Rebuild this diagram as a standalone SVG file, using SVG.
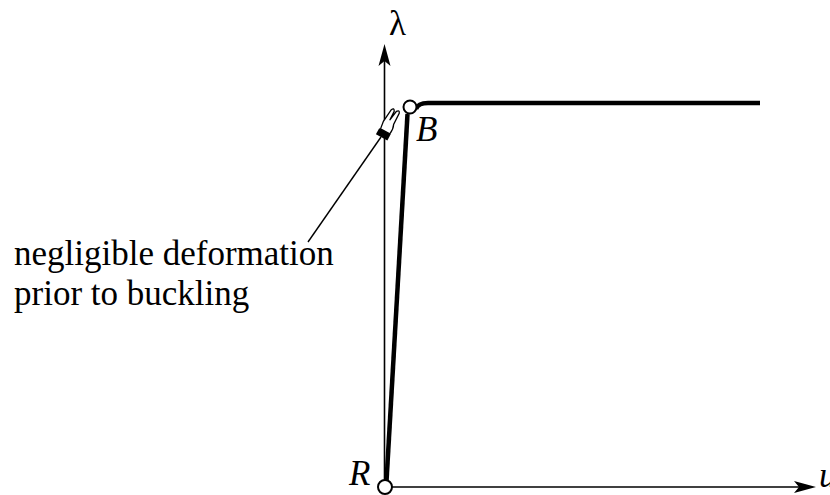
<svg xmlns="http://www.w3.org/2000/svg" width="830" height="495" viewBox="0 0 830 495">
<style>
.lbl{font-family:"Liberation Serif","Times New Roman",serif;font-size:35px;fill:#000}
.it{font-style:italic}
.axis{stroke:#000;stroke-width:1.6;fill:none}
.curve{stroke:#000;stroke-width:4.5;fill:none;stroke-linecap:butt}
.pt{fill:#fff;stroke:#000;stroke-width:2}
</style>
<rect width="830" height="495" fill="#fff"/>
<g id="connectors">
  <line class="axis" x1="384.5" y1="480" x2="384.5" y2="60"/>
  <path d="M384.5,44 L390.5,66 L384.5,61 L378.5,66 Z" fill="#000"/>
  <line class="axis" x1="392" y1="487" x2="800" y2="487"/>
  <path d="M816,487 L794,481 L799,487 L794,493 Z" fill="#000"/>
  <path class="curve" d="M386.5,481 L407.5,114"/>
  <path class="curve" d="M416,109 Q418,103 428,103 L760,103"/>
  <line x1="308" y1="242" x2="381" y2="137" stroke="#000" stroke-width="1.4"/>
</g>
<g id="node-R">
  <circle class="pt" cx="385" cy="487" r="7"/>
  <text class="lbl it" x="349" y="485">R</text>
</g>
<g id="node-B">
  <circle class="pt" cx="410" cy="107" r="6.5"/>
  <text class="lbl it" x="416" y="141">B</text>
</g>
<g id="hand" transform="translate(384,133) rotate(-62)">
  <rect x="-5" y="-6.5" width="7" height="13" fill="#000"/>
  <path d="M2,-5 L10,-6 L24,-4.5 Q27.5,-3 24,-1.2 L14,-1 L25,0.8 Q28,3 24.5,4.2 L12,4.5 Q8,6.5 2,5.5 Z" fill="#fff" stroke="#000" stroke-width="1.3"/>
</g>
<g id="labels">
  <text class="lbl" x="389" y="35">λ</text>
  <text class="lbl it" x="819" y="487">u</text>
  <text class="lbl" x="14" y="265">negligible deformation</text>
  <text class="lbl" x="14" y="305">prior to buckling</text>
</g>
</svg>
